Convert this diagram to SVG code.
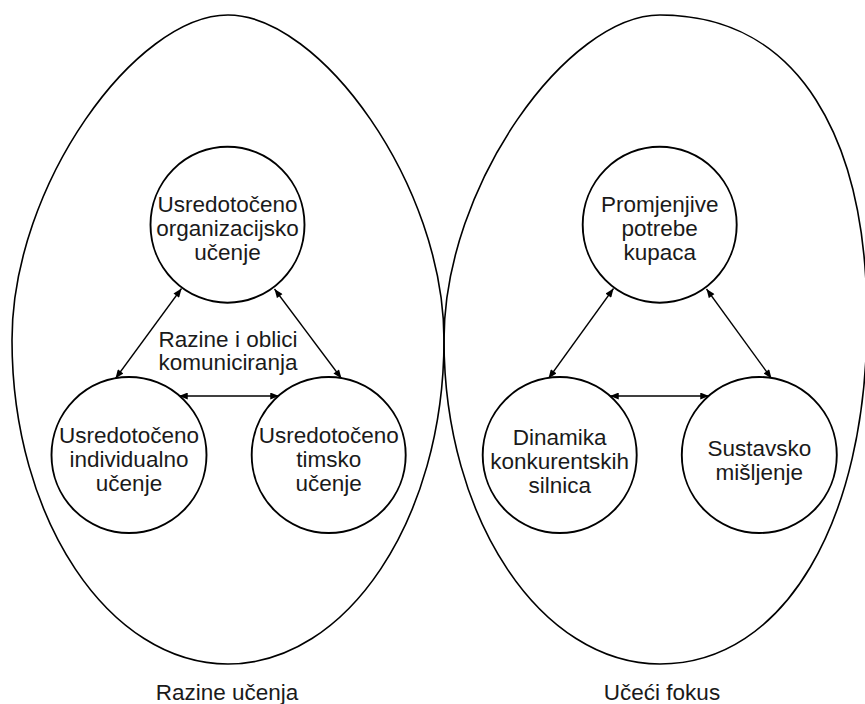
<svg xmlns="http://www.w3.org/2000/svg" width="865" height="704" viewBox="0 0 865 704">
<defs>
<style>
.outer{fill:none;stroke:#000;stroke-width:1.6}
.node{fill:#fff;stroke:#000;stroke-width:1.9}
.lbl{font-family:"Liberation Sans",Arial,sans-serif;font-size:22.5px;fill:#1a1a1a;text-anchor:middle}
.con{fill:none;stroke:#000;stroke-width:1.3;marker-start:url(#ah);marker-end:url(#ah)}
</style>
<marker id="ah" viewBox="0 0 10 8" refX="10" refY="4" markerWidth="10" markerHeight="7" markerUnits="userSpaceOnUse" orient="auto-start-reverse">
<path d="M0,0 L10,4 L0,8 Z" fill="#000"/>
</marker>
</defs>
<rect width="865" height="704" fill="#fff"/>
<g id="razine-ucenja">
<path class="outer" d="M228,15 C320,15 444,185 444,340 C444,519 347,664 228,664 C109,664 12,519 12,340 C12,185 136,15 228,15 Z"/>
<text class="lbl" x="227" y="700">Razine učenja</text>
</g>
<g id="uceci-fokus">
<path class="outer" d="M660,15 C800,15 867,140 867,320 C867,520 785,664 660,664 C541,664 444,519 444,340 C444,185 568,15 660,15 Z"/>
<text class="lbl" x="662" y="700">Učeći fokus</text>
</g>
<g id="connectors">
<line class="con" x1="181.5" y1="288.5" x2="115.5" y2="378.5"/>
<line class="con" x1="274.5" y1="289" x2="341.5" y2="378.5"/>
<line class="con" x1="179" y1="396" x2="279" y2="396"/>
<line class="con" x1="613.5" y1="288.5" x2="548.5" y2="378.5"/>
<line class="con" x1="706.5" y1="289" x2="771.5" y2="378.5"/>
<line class="con" x1="610" y1="396" x2="709" y2="396"/>
</g>
<g id="komunikacija">
<text class="lbl" x="228" y="347">Razine i oblici</text>
<text class="lbl" x="228" y="370">komuniciranja</text>
</g>
<g id="organizacijsko">
<ellipse class="node" cx="227.5" cy="224.7" rx="77" ry="78"/>
<text class="lbl" x="227.5" y="212">Usredotočeno</text>
<text class="lbl" x="227.5" y="236">organizacijsko</text>
<text class="lbl" x="227.5" y="260">učenje</text>
</g>
<g id="individualno">
<ellipse class="node" cx="129" cy="455" rx="77.5" ry="78"/>
<text class="lbl" x="129" y="443">Usredotočeno</text>
<text class="lbl" x="129" y="467">individualno</text>
<text class="lbl" x="129" y="491">učenje</text>
</g>
<g id="timsko">
<ellipse class="node" cx="328.7" cy="455" rx="77" ry="78"/>
<text class="lbl" x="328.7" y="443">Usredotočeno</text>
<text class="lbl" x="328.7" y="467">timsko</text>
<text class="lbl" x="328.7" y="491">učenje</text>
</g>
<g id="kupci">
<ellipse class="node" cx="659.7" cy="224.7" rx="77" ry="78"/>
<text class="lbl" x="659.7" y="212">Promjenjive</text>
<text class="lbl" x="659.7" y="236">potrebe</text>
<text class="lbl" x="659.7" y="260">kupaca</text>
</g>
<g id="dinamika">
<ellipse class="node" cx="559.7" cy="455" rx="77" ry="78"/>
<text class="lbl" x="559.7" y="445">Dinamika</text>
<text class="lbl" x="559.7" y="469">konkurentskih</text>
<text class="lbl" x="559.7" y="493">silnica</text>
</g>
<g id="sustavsko">
<ellipse class="node" cx="759.3" cy="455" rx="77.5" ry="78"/>
<text class="lbl" x="759.3" y="456">Sustavsko</text>
<text class="lbl" x="759.3" y="480">mišljenje</text>
</g>
</svg>
